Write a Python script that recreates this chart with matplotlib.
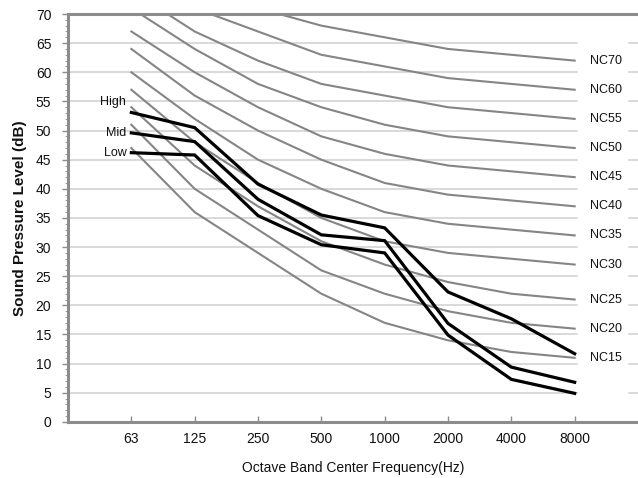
import matplotlib
matplotlib.use("Agg")
import matplotlib.pyplot as plt

freqs = ["63", "125", "250", "500", "1000", "2000", "4000", "8000"]

nc_labels = ["NC70", "NC60", "NC55", "NC50", "NC45", "NC40", "NC35", "NC30", "NC25", "NC20", "NC15"]
nc_values = [
    [80, 75, 71, 68, 66, 64, 63, 62],
    [77, 71, 67, 63, 61, 59, 58, 57],
    [74, 67, 62, 58, 56, 54, 53, 52],
    [71, 64, 58, 54, 51, 49, 48, 47],
    [67, 60, 54, 49, 46, 44, 43, 42],
    [64, 56, 50, 45, 41, 39, 38, 37],
    [60, 52, 45, 40, 36, 34, 33, 32],
    [57, 48, 41, 35, 31, 29, 28, 27],
    [54, 44, 37, 31, 27, 24, 22, 21],
    [51, 40, 33, 26, 22, 19, 17, 16],
    [47, 36, 29, 22, 17, 14, 12, 11],
]

series_names = ["High", "Mid", "Low"]
high = [53.1, 50.5, 40.8, 35.5, 33.3, 22.3, 17.7, 11.7]
mid = [49.6, 48.1, 38.2, 32.1, 31.1, 16.9, 9.4, 6.8]
low = [46.2, 45.8, 35.4, 30.4, 29.0, 14.9, 7.3, 4.9]
series_values = [high, mid, low]

y_ticks = list(range(0, 75, 5))

plt.rcParams['font.family'] = ['Liberation Sans', 'DejaVu Sans']

fig = plt.figure(figsize=(6.38, 4.78), dpi=100)
ax = fig.add_axes([68 / 638, 1 - 421.9 / 478, 570 / 638, (421.9 - 14) / 478])

x = list(range(1, len(freqs) + 1))
ax.set_xlim(0, 9)
ax.set_ylim(0, 70)

# gridlines (with a gap where the NC labels sit)
trans = ax.get_yaxis_transform()
for yv in y_ticks[1:-1]:
    ax.plot([0, 0.893], [yv, yv], transform=trans, color='#d0d0d0', lw=1.1, zorder=0, clip_on=False)
    ax.plot([0.984, 1.0], [yv, yv], transform=trans, color='#d0d0d0', lw=1.1, zorder=0, clip_on=False)

for lab, vals in zip(nc_labels, nc_values):
    ax.plot(x, vals, color='#858585', lw=1.5, zorder=2, solid_joinstyle='miter')
    ax.text(x[-1] + 0.24, vals[-1], lab, fontsize=9, va='center', ha='left', color='#111111')

label_offsets = [10, 0, 0]
for name, vals, off in zip(series_names, series_values, label_offsets):
    ax.plot(x, vals, color='black', lw=2.3, zorder=3, solid_joinstyle='miter')
    ax.annotate(name, xy=(x[0], vals[0]), xytext=(-5, off), textcoords='offset pixels',
                fontsize=9, ha='right', va='center', color='#111111')

ax.set_xticks(x)
ax.set_xticklabels(freqs)
ax.set_yticks(y_ticks)
ax.set_yticks(range(0, 71), minor=True)

for side in ['left', 'bottom', 'top']:
    ax.spines[side].set_color('#8c8c8c')
    ax.spines[side].set_linewidth(2.2)
ax.spines['right'].set_visible(False)

ax.tick_params(axis='x', direction='in', length=4, width=1, color='#8c8c8c', pad=7,
               labelsize=10, labelcolor='#111111')
ax.tick_params(axis='y', which='major', direction='out', length=4, width=1, color='#8c8c8c',
               pad=8, labelsize=10, labelcolor='#111111')
ax.tick_params(axis='y', which='minor', direction='out', length=2.5, width=0.8, color='#a0a0a0')

ax.set_xlabel("Octave Band Center Frequency(Hz)", fontsize=10, labelpad=11, color='#111111')
ax.set_ylabel("Sound Pressure Level (dB)", fontsize=11, fontweight='bold', labelpad=6, color='#111111')

fig.savefig("out.png", dpi=100)
